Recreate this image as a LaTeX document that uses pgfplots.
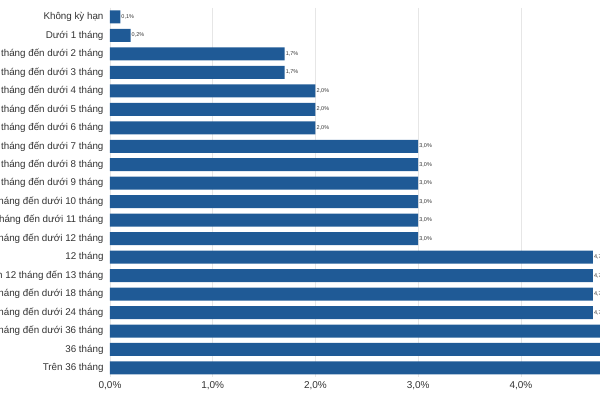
\documentclass[border=0pt]{standalone}
\usepackage{pgfplots}
\pgfplotsset{compat=1.18}
\usepackage{fontspec}
\setmainfont{Liberation Sans}
\definecolor{barblue}{HTML}{1F5A96}
\definecolor{gridgray}{HTML}{E6E6E6}
\definecolor{axgray}{HTML}{C8C8C8}
\definecolor{txt}{HTML}{333333}
\begin{document}
\begin{tikzpicture}[x=1pt,y=1pt]
\path[use as bounding box, clip] (0,0) rectangle (600,400);
\begin{axis}[
  at={(110pt,22.8pt)}, anchor=south west,
  scale only axis, width=490pt, height=369.5pt,
  xbar, bar width=13pt,
  xmin=0, xmax=4.77, ymin=-0.5, ymax=19.5, y dir=reverse,
  ytick={0,...,19},
  yticklabels={Không kỳ hạn, Dưới 1 tháng, Từ 1 tháng đến dưới 2 tháng, Từ 2 tháng đến dưới 3 tháng, Từ 3 tháng đến dưới 4 tháng, Từ 4 tháng đến dưới 5 tháng, Từ 5 tháng đến dưới 6 tháng, Từ 6 tháng đến dưới 7 tháng, Từ 7 tháng đến dưới 8 tháng, Từ 8 tháng đến dưới 9 tháng, Từ 9 tháng đến dưới 10 tháng, Từ 10 tháng đến dưới 11 tháng, Từ 11 tháng đến dưới 12 tháng, 12 tháng, Trên 12 tháng đến 13 tháng, Từ 13 tháng đến dưới 18 tháng, Từ 18 tháng đến dưới 24 tháng, Từ 24 tháng đến dưới 36 tháng, 36 tháng, Trên 36 tháng},
  xtick={0,1,2,3,4},
  xticklabels={{0,0\%},{1,0\%},{2,0\%},{3,0\%},{4,0\%}},
  major tick length=0pt,
  axis line style={draw=none},
  xmajorgrids, major grid style={gridgray, line width=0.8pt},
  extra x ticks={0}, extra x tick labels={},
  extra x tick style={grid style={axgray, line width=0.8pt}},
  yticklabel style={font=\fontsize{9.8}{12}\selectfont, text=txt, xshift=-3pt},
  xticklabel style={font=\fontsize{10}{12}\selectfont, text=txt, yshift=-1pt},
  nodes near coords={\pgfmathprintnumber[fixed,fixed zerofill,precision=1,use comma,assume math mode=true]{\pgfplotspointmeta}\%},
  every node near coord/.append style={font=\fontsize{5.5}{6.5}\selectfont, text=txt, anchor=west, inner sep=1pt},
]
\addplot[fill=barblue, draw=none] coordinates {
(0.1,0) (0.2,1) (1.7,2) (1.7,3) (2.0,4) (2.0,5) (2.0,6)
(3.0,7) (3.0,8) (3.0,9) (3.0,10) (3.0,11) (3.0,12)
(4.7,13) (4.7,14) (4.7,15) (4.7,16) (5.3,17) (5.3,18) (5.3,19)
};
\end{axis}
\end{tikzpicture}
\end{document}
